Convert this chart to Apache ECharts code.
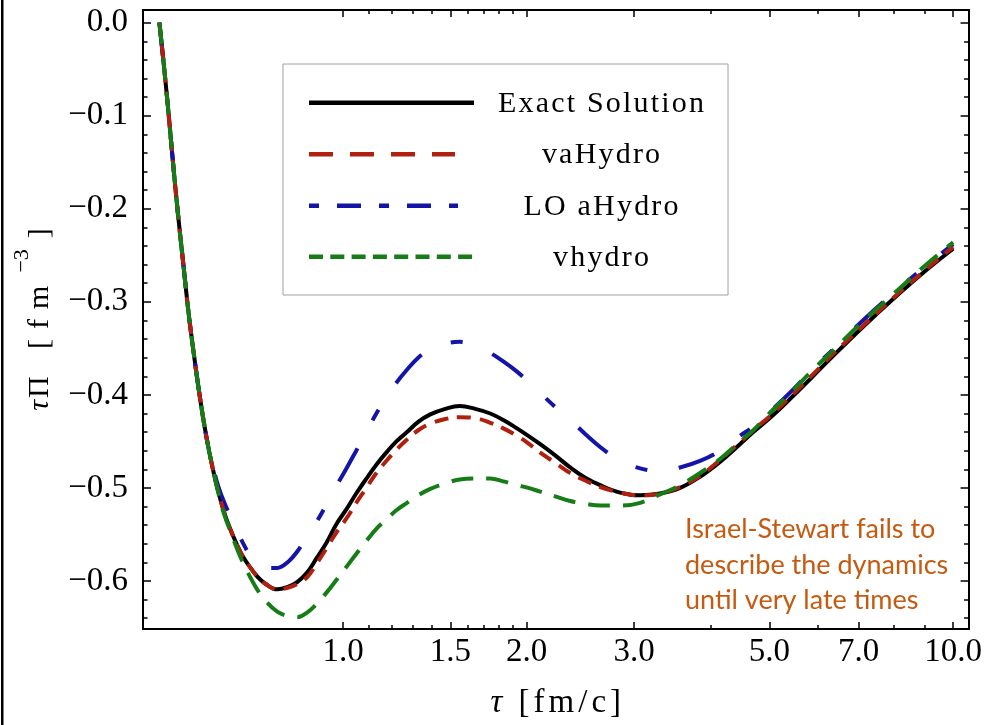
<!DOCTYPE html>
<html>
<head>
<meta charset="utf-8">
<script src="https://cdn.jsdelivr.net/npm/echarts@6/dist/echarts.min.js"></script>
<style>
html, body { margin: 0; padding: 0; background: #fff; }
#chart { width: 985px; height: 725px; }
</style>
</head>
<body>
<div id="chart"></div>
<script>
'use strict';
// tau*Pi versus tau: exact solution against three hydro approximations (log tau axis)

var tau = [0.5, 0.51, 0.518, 0.527, 0.536, 0.548, 0.558, 0.571, 0.584, 0.597,
  0.611, 0.625, 0.639, 0.654, 0.669, 0.684, 0.702, 0.723, 0.746, 0.78,
  0.814, 0.842, 0.873, 0.904, 0.941, 0.975, 1.015, 1.051, 1.092, 1.134,
  1.181, 1.223, 1.273, 1.328, 1.39, 1.471, 1.553, 1.647, 1.743, 1.831,
  1.928, 2.012, 2.105, 2.227, 2.357, 2.494, 2.639, 2.846, 3.069, 3.309,
  3.568, 3.847, 4.148, 4.473, 4.704, 5.066, 5.47, 5.891, 6.36, 7.114,
  7.974, 8.922, 10];

var piExact = [0, -0.054, -0.1, -0.154, -0.204, -0.263, -0.311, -0.362, -0.407, -0.445,
  -0.478, -0.505, -0.527, -0.545, -0.56, -0.573, -0.584, -0.595, -0.603, -0.609,
  -0.606, -0.601, -0.591, -0.576, -0.558, -0.539, -0.522, -0.506, -0.49, -0.475,
  -0.461, -0.45, -0.44, -0.429, -0.421, -0.415, -0.412, -0.415, -0.42, -0.427,
  -0.436, -0.444, -0.453, -0.465, -0.478, -0.489, -0.497, -0.505, -0.508, -0.506,
  -0.5, -0.488, -0.472, -0.453, -0.44, -0.422, -0.401, -0.38, -0.358, -0.327,
  -0.297, -0.269, -0.243];

var piVaHydro = [0, -0.054, -0.1, -0.154, -0.204, -0.263, -0.311, -0.362, -0.407, -0.445,
  -0.478, -0.505, -0.527, -0.545, -0.56, -0.573, -0.584, -0.595, -0.603, -0.609,
  -0.607, -0.603, -0.596, -0.582, -0.564, -0.548, -0.532, -0.516, -0.5, -0.484,
  -0.47, -0.459, -0.448, -0.438, -0.431, -0.426, -0.424, -0.425, -0.43, -0.436,
  -0.444, -0.452, -0.462, -0.473, -0.484, -0.492, -0.499, -0.505, -0.508, -0.506,
  -0.499, -0.487, -0.47, -0.451, -0.438, -0.42, -0.399, -0.378, -0.356, -0.326,
  -0.296, -0.268, -0.241];

var piLoAHydro = [0, -0.054, -0.1, -0.154, -0.204, -0.263, -0.311, -0.362, -0.407, -0.445,
  -0.475, -0.499, -0.516, -0.531, -0.545, -0.558, -0.571, -0.58, -0.586, -0.586,
  -0.579, -0.568, -0.552, -0.537, -0.517, -0.498, -0.478, -0.46, -0.44, -0.42,
  -0.402, -0.387, -0.373, -0.36, -0.351, -0.345, -0.343, -0.347, -0.355, -0.364,
  -0.375, -0.386, -0.398, -0.413, -0.427, -0.442, -0.456, -0.471, -0.479, -0.482,
  -0.478, -0.471, -0.46, -0.444, -0.434, -0.415, -0.394, -0.372, -0.351, -0.32,
  -0.291, -0.264, -0.238];

var piVHydro = [0, -0.054, -0.1, -0.154, -0.204, -0.263, -0.311, -0.362, -0.407, -0.445,
  -0.478, -0.506, -0.529, -0.547, -0.564, -0.579, -0.594, -0.609, -0.621, -0.633,
  -0.638, -0.639, -0.634, -0.625, -0.612, -0.599, -0.584, -0.571, -0.557, -0.544,
  -0.533, -0.524, -0.516, -0.508, -0.501, -0.495, -0.491, -0.49, -0.49, -0.493,
  -0.497, -0.5, -0.504, -0.509, -0.514, -0.517, -0.519, -0.519, -0.516, -0.507,
  -0.497, -0.484, -0.469, -0.45, -0.438, -0.416, -0.395, -0.373, -0.352, -0.321,
  -0.292, -0.263, -0.236];

var seriesNames = ['Exact Solution', 'vaHydro', 'LO aHydro', 'vhydro'];
var seriesColors = ['#000000', '#b0200e', '#1414a8', '#167c16'];

var xMajor = [1, 1.5, 2, 3, 5, 7, 10];
var xMinor = [1.1, 1.2, 1.3, 1.4, 1.6, 1.7, 1.8, 1.9, 4, 6, 8, 9];
var yMajor = [0, -0.1, -0.2, -0.3, -0.4, -0.5, -0.6];
var yMinor = [-0.02, -0.04, -0.06, -0.08, -0.12, -0.14, -0.16, -0.18, -0.22, -0.24, -0.26, -0.28,
  -0.32, -0.34, -0.36, -0.38, -0.42, -0.44, -0.46, -0.48, -0.52, -0.54, -0.56, -0.58, -0.62, -0.64];

var X_MIN = 0.47, X_MAX = 10.6;
var Y_MIN = -0.6516, Y_MAX = 0.0136;
var SERIF = 'Liberation Serif';

function pairs(xs, ys) {
  return xs.map(function (x, i) { return [x, ys[i]]; });
}

// wide Mathematica-like letter spacing: one rich fragment per character
function spaced(str, style) {
  return str.split('').map(function (ch) { return '{' + style + '|' + ch + '}'; }).join('');
}

function xSide(pos, ticks, len, withLabels) {
  return {
    type: 'log', min: X_MIN, max: X_MAX, position: pos, gridIndex: 0, offset: 0,
    axisLine: { show: true, onZero: false, lineStyle: { color: '#000', width: 2 } },
    axisTick: { show: true, inside: true, length: len, customValues: ticks, lineStyle: { color: '#000', width: 1.5 } },
    axisLabel: withLabels ? {
      show: true, customValues: ticks, margin: 7, color: '#000', fontFamily: SERIF, fontSize: 33,
      formatter: function (v) { return Number(v).toFixed(1); }
    } : { show: false },
    splitLine: { show: false }
  };
}

function ySide(pos, ticks, len, withLabels) {
  return {
    type: 'value', min: Y_MIN, max: Y_MAX, position: pos, gridIndex: 0, offset: 0,
    axisLine: { show: true, onZero: false, lineStyle: { color: '#000', width: 2 } },
    axisTick: { show: true, inside: true, length: len, customValues: ticks, lineStyle: { color: '#000', width: 1.5 } },
    axisLabel: withLabels ? {
      show: true, customValues: ticks, margin: 15, color: '#000', fontFamily: SERIF, fontSize: 33,
      formatter: function (v) { return v === 0 ? '0.0' : '\u2212' + Math.abs(v).toFixed(1); }
    } : { show: false },
    splitLine: { show: false }
  };
}

var xBottom = xSide('bottom', xMajor, 7, true);
xBottom.name = spaced('\u03c4', 'i') + spaced(' [fm/c]', 'c');
xBottom.nameLocation = 'middle';
xBottom.nameGap = 58;
xBottom.nameTextStyle = {
  color: '#000', fontFamily: SERIF, fontSize: 33,
  rich: {
    i: { fontFamily: SERIF, fontSize: 33, fontStyle: 'italic', color: '#000', padding: [0, 2] },
    c: { fontFamily: SERIF, fontSize: 33, color: '#000', padding: [0, 2] }
  }
};

var yLeft = ySide('left', yMajor, 8, true);
yLeft.name = '{i|\u03c4}{p|\u03a0}' + spaced(' [fm', 'c') + '{s|\u22123}' + spaced(']', 'c');
yLeft.nameLocation = 'middle';
yLeft.nameGap = 88;
yLeft.nameRotate = 90;
yLeft.nameTextStyle = {
  color: '#000', fontFamily: SERIF, fontSize: 30,
  rich: {
    i: { fontFamily: SERIF, fontSize: 30, fontStyle: 'italic', color: '#000', lineHeight: 44, verticalAlign: 'bottom', padding: [0, 1, 0, 5] },
    p: { fontFamily: SERIF, fontSize: 30, color: '#000', lineHeight: 44, verticalAlign: 'bottom', padding: [0, 5, 0, 1] },
    c: { fontFamily: SERIF, fontSize: 30, color: '#000', lineHeight: 44, verticalAlign: 'bottom', padding: [0, 5] },
    s: { fontFamily: SERIF, fontSize: 22, color: '#000', lineHeight: 16, verticalAlign: 'top', padding: [0, 6, 0, 8] }
  }
};

var dashes = ['solid', [14, 9], [38, 32, 12, 32], [22, 13]];
var drawOrder = [0, 2, 1, 3];
var piSets = [piExact, piVaHydro, piLoAHydro, piVHydro];

var series = drawOrder.map(function (k, n) {
  return {
    name: seriesNames[k],
    type: 'line',
    xAxisIndex: 0, yAxisIndex: 0,
    data: pairs(tau, piSets[k]),
    smooth: 0.4,
    symbol: 'none',
    showSymbol: false,
    clip: true,
    z: 2 + n,
    lineStyle: { color: seriesColors[k], width: 4, type: dashes[k], cap: 'butt' }
  };
});

// legend box drawn by hand, as in the source figure
var legendDash = [null, [24, 17], [10, 18, 24, 18], [14, 7.3]];
var legendEnd = [474, 455, 458, 473];
var legendRows = [102.7, 154.3, 205.7, 256.7];
var legendGraphic = [{
  type: 'rect', shape: { x: 283, y: 64, width: 445, height: 231 },
  style: { fill: '#fff', stroke: '#a0a0a0', lineWidth: 1 }, z: 10
}];
seriesNames.forEach(function (nm, i) {
  legendGraphic.push({
    type: 'line', z: 11,
    shape: { x1: 309, y1: legendRows[i], x2: legendEnd[i], y2: legendRows[i] },
    style: { stroke: seriesColors[i], lineWidth: 4.5, lineDash: legendDash[i], lineCap: 'butt' }
  });
  legendGraphic.push({
    type: 'text', z: 11, x: 601, y: legendRows[i] + 1,
    style: {
      text: spaced(nm, 'c'), textAlign: 'center', textVerticalAlign: 'middle',
      rich: { c: { fill: '#000', fontFamily: SERIF, fontSize: 30, padding: [0, 1.1] } }
    }
  });
});

var chart = echarts.init(document.getElementById('chart'), null, { renderer: 'canvas' });
chart.setOption({
  animation: false,
  backgroundColor: '#fff',
  grid: { left: 143, right: 16, top: 10, bottom: 94, containLabel: false },
  xAxis: [
    xBottom,
    xSide('bottom', xMinor, 4, false),
    xSide('top', xMajor, 7, false),
    xSide('top', xMinor, 4, false)
  ],
  yAxis: [
    yLeft,
    ySide('left', yMinor, 4.5, false),
    ySide('right', yMajor, 8, false),
    ySide('right', yMinor, 4.5, false)
  ],
  series: series,
  graphic: legendGraphic.concat([
    {
      type: 'text', z: 11, x: 685, y: 512,
      style: {
        text: 'Israel-Stewart fails to\ndescribe the dynamics\nuntil very late times',
        fill: '#c55a11', font: '27px Lato', lineHeight: 35.5
      }
    },
    {
      type: 'rect', z: 11, shape: { x: 1, y: 0, width: 2.5, height: 725 },
      style: { fill: '#000' }
    }
  ])
});
</script>
</body>
</html>
